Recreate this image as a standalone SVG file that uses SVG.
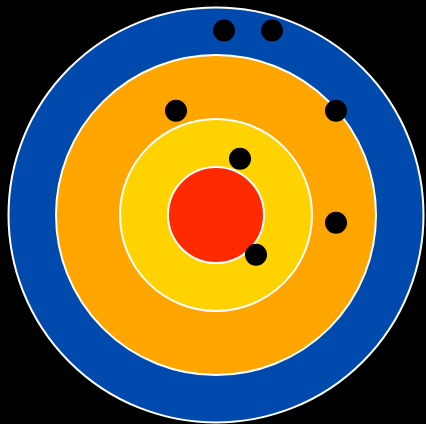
<svg xmlns="http://www.w3.org/2000/svg" width="426" height="424" viewBox="0 0 426 424">
<style>
.ring{stroke:#fff;stroke-width:2}
.dot{fill:#000}
</style>
<rect width="426" height="424" fill="#000"/>
<g id="target">
<circle class="ring" cx="216" cy="215" r="207.5" fill="#004AAD"/>
<circle class="ring" cx="216" cy="215" r="160" fill="#FFA500"/>
<circle class="ring" cx="216" cy="215" r="96" fill="#FFD200"/>
<circle class="ring" cx="216" cy="215" r="48" fill="#FF2A00"/>
</g>
<g id="hits">
<circle class="dot" cx="224" cy="30.5" r="11"/>
<circle class="dot" cx="272" cy="30.5" r="11"/>
<circle class="dot" cx="176" cy="110.7" r="11"/>
<circle class="dot" cx="336" cy="110.7" r="11"/>
<circle class="dot" cx="240" cy="158.7" r="11"/>
<circle class="dot" cx="336" cy="222.7" r="11"/>
<circle class="dot" cx="256" cy="254.7" r="11"/>
</g>
</svg>
